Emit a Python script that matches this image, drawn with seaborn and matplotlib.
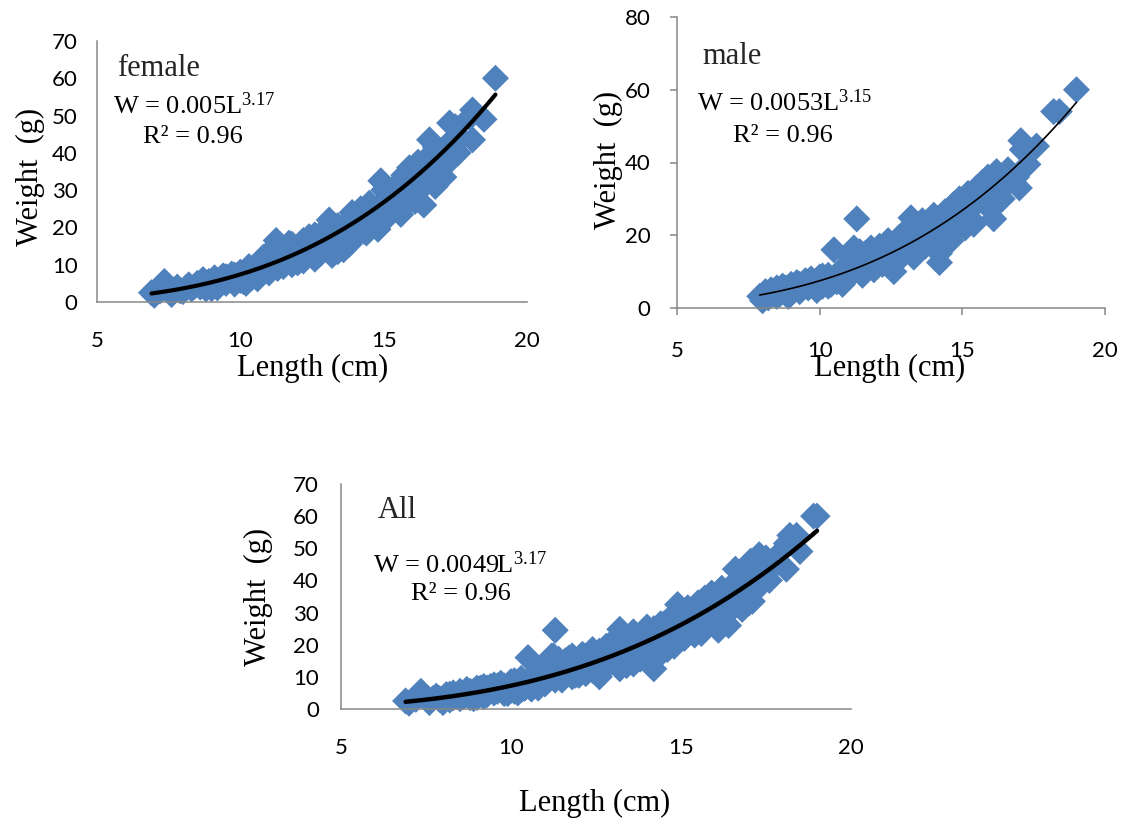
import numpy as np
import pandas as pd
import matplotlib
matplotlib.use("Agg")
import matplotlib.pyplot as plt
import seaborn as sns

# ---------------- data ----------------
female_length = [6.9, 7.0, 7.35, 7.5, 7.6, 7.8, 7.9, 8.0, 8.3, 8.5, 8.6, 8.7, 8.8, 8.9, 9.0, 9.1,
                 9.2, 9.3, 9.4, 9.5, 9.6, 9.7, 9.8, 9.9, 10.0, 10.1, 10.2, 10.3, 10.4, 10.5, 10.6,
                 10.7, 10.8, 10.9, 11.0, 11.1, 11.2, 11.25, 11.4, 11.5, 11.6, 11.7, 11.8, 11.9,
                 12.0, 12.1, 12.2, 12.3, 12.4, 12.5, 12.6, 12.7, 12.8, 12.9, 13.0, 13.1, 13.2,
                 13.3, 13.4, 13.5, 13.6, 13.7, 13.8, 13.9, 14.0, 14.1, 14.2, 14.3, 14.4, 14.5,
                 14.6, 14.7, 14.8, 14.9, 15.0, 15.1, 15.2, 15.3, 15.4, 15.5, 15.6, 15.7, 15.8,
                 15.9, 16.0, 16.1, 16.2, 16.3, 16.4, 16.5, 16.6, 16.7, 16.8, 16.9, 17.0, 17.1,
                 17.2, 17.3, 17.5, 17.6, 17.7, 18.0, 18.1, 18.1, 18.5, 18.9,
                 7.2, 7.7, 8.1, 8.2, 8.4, 9.0, 9.2, 9.5, 9.8, 10.0, 10.2, 10.4, 10.6, 10.8, 11.0,
                 11.2, 11.3, 11.5, 11.7, 11.8, 12.0, 12.2, 12.4, 12.6, 12.8, 13.0, 13.2, 13.4,
                 13.6, 13.8, 14.0, 14.2, 14.4, 14.6, 14.8, 15.0, 15.2, 15.4, 15.6, 15.8, 16.0,
                 16.2, 16.4, 16.6, 16.8, 17.0, 17.4, 17.2]
female_weight = [2.5, 1.8, 5.5, 3.5, 2.0, 4.0, 3.0, 2.8, 3.5, 5.0, 4.0, 6.0, 3.5, 5.5, 4.5, 6.5,
                 3.8, 5.2, 7.0, 5.0, 6.0, 7.5, 4.8, 6.5, 8.0, 5.5, 7.0, 9.5, 6.5, 8.5, 10.0,
                 7.5, 12.0, 9.0, 11.0, 14.0, 10.0, 16.5, 12.5, 9.5, 14.5, 11.5, 15.5, 12.0,
                 10.5, 14.0, 16.5, 12.5, 17.5, 14.0, 11.5, 16.0, 13.0, 19.0, 15.0, 22.0, 12.5,
                 18.0, 20.5, 15.5, 14.0, 21.0, 18.5, 24.0, 17.5, 21.5, 25.0, 19.0, 23.0, 26.5,
                 21.0, 24.5, 19.5, 32.5, 27.0, 22.5, 29.5, 25.0, 31.0, 27.5, 23.5, 34.0, 29.0,
                 36.0, 31.5, 27.0, 37.5, 33.0, 26.0, 38.5, 43.5, 35.0, 31.0, 40.0, 36.5, 33.5,
                 42.0, 48.0, 47.0, 40.0, 44.0, 49.5, 51.5, 43.5, 49.0, 60.0,
                 3.0, 3.2, 3.8, 4.6, 4.2, 3.6, 5.6, 6.8, 7.2, 5.8, 5.0, 8.2, 6.2, 9.5, 7.8,
                 12.5, 9.0, 13.0, 15.8, 10.0, 13.0, 11.0, 15.0, 18.0, 15.5, 18.5, 16.0, 13.5,
                 19.5, 15.5, 22.0, 20.5, 18.5, 25.5, 22.5, 30.0, 26.5, 28.5, 32.0, 26.5, 34.5,
                 29.5, 35.5, 38.5, 41.5, 39.0, 43.5, 37.0]

male_length = [7.9, 8.0, 8.1, 8.2, 8.3, 8.4, 8.5, 8.6, 8.7, 8.8, 8.9, 9.0, 9.1, 9.2, 9.3, 9.4,
               9.5, 9.6, 9.7, 9.8, 9.9, 10.0, 10.1, 10.2, 10.3, 10.4, 10.5, 10.6, 10.7, 10.8,
               10.9, 11.0, 11.1, 11.2, 11.3, 11.3, 11.4, 11.5, 11.6, 11.7, 11.8, 11.9, 12.0,
               12.1, 12.2, 12.3, 12.4, 12.5, 12.6, 12.7, 12.8, 12.9, 13.0, 13.1, 13.2, 13.3,
               13.4, 13.5, 13.6, 13.7, 13.8, 13.9, 14.0, 14.1, 14.2, 14.2, 14.3, 14.4, 14.5,
               14.6, 14.7, 14.8, 14.9, 15.0, 15.1, 15.2, 15.3, 15.4, 15.5, 15.6, 15.7, 15.8,
               15.9, 16.0, 16.1, 16.2, 16.3, 16.4, 16.6, 16.8, 17.0, 17.05, 17.1, 17.3, 17.6,
               18.2, 18.4, 19.0,
               8.2, 8.5, 8.8, 9.0, 9.3, 9.6, 9.9, 10.1, 10.3, 10.6, 10.8, 11.0, 11.2, 11.4,
               11.6, 11.8, 12.0, 12.2, 12.4, 12.6, 12.8, 13.0, 13.2, 13.4, 13.6, 13.8, 14.0,
               14.3, 14.5, 14.7, 14.9, 15.1, 15.3, 15.5, 15.7, 15.9, 16.1, 16.3, 16.5, 16.7,
               16.9]
male_weight = [3.2, 2.0, 4.5, 3.5, 5.0, 4.0, 5.5, 3.8, 6.0, 4.5, 3.2, 6.5, 5.0, 7.0, 4.5, 6.0,
               7.5, 5.5, 8.0, 6.5, 4.8, 8.5, 6.0, 7.5, 9.0, 6.5, 16.0, 8.5, 10.0, 6.5,
               11.5, 9.0, 14.0, 16.5, 24.5, 11.0, 13.0, 9.0, 15.0, 12.0, 16.5, 10.5, 14.0,
               17.0, 12.0, 15.5, 18.5, 13.0, 10.0, 17.5, 19.5, 15.0, 21.0, 17.0, 24.8, 14.0,
               22.0, 19.0, 24.0, 17.0, 22.5, 20.0, 25.5, 18.0, 12.5, 15.0, 23.5, 26.5, 20.0,
               18.5, 28.5, 24.0, 30.0, 26.0, 22.0, 31.5, 27.5, 23.0, 33.0, 29.5, 34.5, 30.5,
               36.0, 27.0, 24.5, 37.5, 32.5, 30.0, 38.0, 35.5, 33.0, 46.0, 43.5, 39.5, 44.5,
               54.0, 54.0, 60.0,
               2.8, 3.2, 5.5, 4.0, 6.5, 7.2, 7.0, 8.8, 6.0, 7.2, 9.5, 12.0, 10.0, 15.5,
               11.0, 13.5, 11.5, 15.0, 12.0, 16.5, 13.5, 17.5, 19.0, 16.0, 21.0, 18.0, 22.0,
               20.5, 24.5, 21.0, 27.0, 29.0, 24.5, 30.0, 31.0, 33.0, 35.0, 36.5, 33.5, 37.0,
               36.0]

# fitted power curves W = a * L^b (coefficients shown on the chart)
fit_female = {"a": 0.005, "b": 3.17, "r2": 0.96, "lmin": 6.9, "lmax": 18.9}
fit_male = {"a": 0.0053, "b": 3.15, "r2": 0.96, "lmin": 7.9, "lmax": 19.0}
fit_all = {"a": 0.0049, "b": 3.17, "r2": 0.96, "lmin": 6.9, "lmax": 19.0}

x_ticks = [5, 10, 15, 20]
y_ticks_female = [0, 10, 20, 30, 40, 50, 60, 70]
y_ticks_male = [0, 20, 40, 60, 80]
y_ticks_all = [0, 10, 20, 30, 40, 50, 60, 70]

# ---------------- style ----------------
sns.set_theme(style="white")
plt.rcParams["font.family"] = ["Lato", "DejaVu Sans"]
plt.rcParams["mathtext.fontset"] = "custom"
plt.rcParams["mathtext.rm"] = "Liberation Serif"
plt.rcParams["mathtext.it"] = "Liberation Serif"

W_PX, H_PX = 1128, 827
fig = plt.figure(figsize=(W_PX / 100, H_PX / 100), dpi=100)
fig.patch.set_facecolor("white")

BLUE = "#4F81BD"
SPINE = "#878787"
SERIF = ["Liberation Serif", "DejaVu Serif"]


def rect(x0, x1, y_bottom, y_top):
    return [x0 / W_PX, 1 - y_bottom / H_PX, (x1 - x0) / W_PX, (y_bottom - y_top) / H_PX]


def ftext(x, y, s, **kw):
    fig.text(x / W_PX, 1 - y / H_PX, s, **kw)


def panel(r, length, weight, fit, yticks, ymax, lw, ticks, xpad, ypad):
    ax = fig.add_axes(r)
    df = pd.DataFrame({"Length": length, "Weight": weight})
    sns.scatterplot(data=df, x="Length", y="Weight", marker="D", color=BLUE,
                    s=190, edgecolor="none", linewidth=0, ax=ax, zorder=2)
    lx = np.linspace(fit["lmin"], fit["lmax"], 200)
    ly = fit["a"] * lx ** fit["b"]
    sns.lineplot(x=lx, y=ly, color="black", linewidth=lw, ax=ax, zorder=3,
                 estimator=None, sort=False)
    ax.set_xlim(5, 20)
    ax.set_ylim(0, ymax)
    ax.set_xticks(x_ticks)
    ax.set_yticks(yticks)
    ax.set_xlabel("")
    ax.set_ylabel("")
    for side in ["top", "right"]:
        ax.spines[side].set_visible(False)
    for side in ["left", "bottom"]:
        ax.spines[side].set_color(SPINE)
        ax.spines[side].set_linewidth(1.1)
    tl = 5 if ticks else 0
    ax.tick_params(axis="x", direction="out", length=tl, width=1.1, color=SPINE,
                   pad=xpad, labelsize=16, labelcolor="black", bottom=True)
    ax.tick_params(axis="y", direction="out", length=tl, width=1.1, color=SPINE,
                   pad=ypad, labelsize=16, labelcolor="black", left=True)
    ax.set_facecolor("white")
    for c in ax.collections:
        c.set_clip_on(False)
    return ax


# female
panel(rect(97, 527, 302, 41), female_length, female_weight, fit_female,
      y_ticks_female, 70, 3.0, False, 21, 14)
# male
panel(rect(677, 1105, 308, 17), male_length, male_weight, fit_male,
      y_ticks_male, 80, 1.2, True, 19, 14)
# all
all_length = female_length + male_length
all_weight = female_weight + male_weight
panel(rect(341, 851, 709, 484), all_length, all_weight, fit_all,
      y_ticks_all, 70, 3.2, False, 21, 16)

lab = dict(family=SERIF, fontsize=22, color="black")
ann = dict(family=SERIF, fontsize=19, color="black", va="center", ha="left")

# axis titles
ftext(30, 177, "Weight  (g)", rotation=90, ha="center", va="center", **lab)
ftext(313, 368, "Length (cm)", ha="center", va="center", **lab)
ftext(608, 160, "Weight  (g)", rotation=90, ha="center", va="center", **lab)
ftext(890, 368, "Length (cm)", ha="center", va="center", **lab)
ftext(258, 597, "Weight  (g)", rotation=90, ha="center", va="center", **lab)
ftext(595, 803, "Length (cm)", ha="center", va="center", **lab)

# panel annotations
def eq_text(fit):
    return r"W = %gL$^{\mathrm{%.2f}}$" % (fit["a"], fit["b"])

ftext(117, 68, "female", family=SERIF, fontsize=22, va="center", ha="left")
ftext(113, 106, eq_text(fit_female), **ann)
ftext(143, 137, "R² = %.2f" % fit_female["r2"], **ann)

ftext(702, 57, "male", family=SERIF, fontsize=22, va="center", ha="left")
ftext(697, 103, eq_text(fit_male), **ann)
ftext(733, 136, "R² = %.2f" % fit_male["r2"], **ann)

ftext(378, 510, "All", family=SERIF, fontsize=22, va="center", ha="left")
ftext(373, 565, eq_text(fit_all), **ann)
ftext(411, 594, "R² = %.2f" % fit_all["r2"], **ann)

fig.savefig("out.png", dpi=100, facecolor="white")
